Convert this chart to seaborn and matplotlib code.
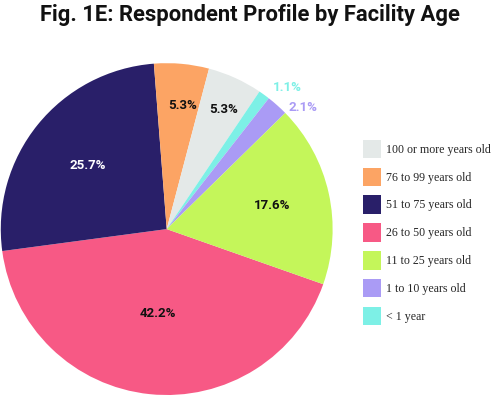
import matplotlib
matplotlib.use("Agg")
import matplotlib.pyplot as plt
from matplotlib.patches import Patch
import numpy as np
import seaborn as sns

sns.set_theme(style="white")

# slices in drawing order (clockwise from the pink / lime boundary)
ages = ["26 to 50 years old", "51 to 75 years old", "76 to 99 years old",
        "100 or more years old", "< 1 year", "1 to 10 years old",
        "11 to 25 years old"]
shares = [42.2, 25.7, 5.3, 5.3, 1.1, 2.1, 17.6]

# legend order as printed on the figure
legend_order = ["100 or more years old", "76 to 99 years old", "51 to 75 years old",
                "26 to 50 years old", "11 to 25 years old", "1 to 10 years old",
                "< 1 year"]

palette = {
    "100 or more years old": "#E4E9E8",
    "76 to 99 years old": "#FCA464",
    "51 to 75 years old": "#291F69",
    "26 to 50 years old": "#F75985",
    "11 to 25 years old": "#C4F65A",
    "1 to 10 years old": "#AA9BF5",
    "< 1 year": "#7DF0E6",
}
colors = [palette[a] for a in ages]

# label styling per slice (radius as fraction of r, angle nudge in degrees, text colour)
lab_r = [0.51, 0.61, 0.75, 0.80, 1.12, 1.10, 0.65]
lab_da = [0, 0, -2, -1, -4.4, -6.3, 0]
lab_col = ["#111111", "white", "#111111", "#111111", palette["< 1 year"],
           palette["1 to 10 years old"], "#111111"]

cond = ["Roboto", "DejaVu Sans"]

fig = plt.figure(figsize=(5, 3.96), dpi=100)
ax = fig.add_axes([0.0014, 0.0025, 0.664, 0.838])
wedges, _ = ax.pie(shares, colors=colors, startangle=-19.4, counterclock=False,
                   radius=1, wedgeprops=dict(linewidth=0))
ax.set_xlim(-1, 1)
ax.set_ylim(-1, 1)
ax.set_axis_off()

for w, v, r, da, c in zip(wedges, shares, lab_r, lab_da, lab_col):
    ang = np.deg2rad((w.theta1 + w.theta2) / 2 + da)
    ax.text(r * np.cos(ang), r * np.sin(ang), f"{v:.1f}%", ha="center", va="center",
            fontsize=9.5, fontweight="bold", color=c, family=cond, clip_on=False)

handles = [Patch(facecolor=palette[a], edgecolor="none") for a in legend_order]
fig.legend(handles, legend_order, loc="upper left", bbox_to_anchor=(0.726, 0.647),
           frameon=False, borderpad=0, borderaxespad=0, handlelength=1.5,
           handleheight=1.98, labelspacing=0.8, handletextpad=0.4,
           prop=dict(family="Liberation Serif", size=8.6))

fig.text(0.5, 0.962, "Fig. 1E: Respondent Profile by Facility Age", ha="center",
         va="center", fontsize=15.8, fontweight="bold", family=cond, color="#111111")

fig.savefig("out.png", dpi=100)
